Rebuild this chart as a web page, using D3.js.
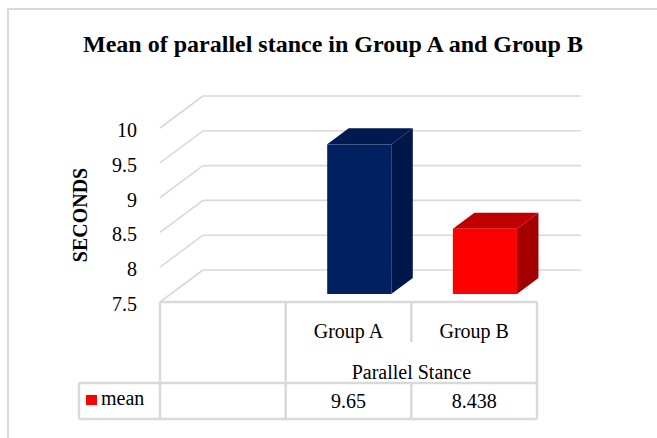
<!DOCTYPE html>
<html>
<head>
<meta charset="utf-8">
<script src="https://cdn.jsdelivr.net/npm/d3@7"></script>
<style>
  html, body { margin: 0; padding: 0; background: #fff; }
  svg { display: block; }
  text { font-family: "Liberation Serif", "Times New Roman", serif; fill: #000; }
</style>
</head>
<body>
<script>
// Chart data
const titleText = "Mean of parallel stance in Group A and Group B";
const axisTitle = "SECONDS";
const groupLabel = "Parallel Stance";
const seriesName = "mean";
const categories = ["Group A", "Group B"];
const meanValues = [9.65, 8.438];
const barColors = ["#002060", "#ff0000"];
const topColors = ["#001a50", "#c00000"];
const sideColors = ["#00174a", "#a50000"];
const yTicks = [7.5, 8, 8.5, 9, 9.5, 10];

const W = 657, H = 438;
const svg = d3.select("body").append("svg").attr("width", W).attr("height", H);

// outer chart-area border
svg.append("rect").attr("x", 8).attr("y", 9).attr("width", 720).attr("height", 520)
  .attr("fill", "#fff").attr("stroke", "#d9d9d9").attr("stroke-width", 2);

// title
svg.append("text").attr("x", 333).attr("y", 52).attr("text-anchor", "middle")
  .attr("font-size", 24).attr("font-weight", "bold").text(titleText);

// scales (front plane)
const y = d3.scaleLinear().domain([7.5, 10]).range([302, 128]);
const x = d3.scaleBand().domain(["", ...categories]).range([160, 537]);
const depthX = 43, depthY = -32;        // full floor depth
const backRight = 581;

const grid = svg.append("g").attr("stroke", "#d9d9d9").attr("stroke-width", 1.6).attr("fill", "none");
yTicks.forEach(v => {
  grid.append("line").attr("x1", x.range()[0]).attr("y1", y(v))
    .attr("x2", x.range()[0] + depthX).attr("y2", y(v) + depthY);
  grid.append("line").attr("x1", x.range()[0] + depthX).attr("y1", y(v) + depthY)
    .attr("x2", backRight).attr("y2", y(v) + depthY);
});

// tick labels
svg.append("g").selectAll("text").data(yTicks).join("text")
  .attr("x", 137).attr("y", d => y(d) + 2).attr("dy", "0.35em")
  .attr("text-anchor", "end").attr("font-size", 20).text(d => d);

// axis title
svg.append("text").attr("transform", "translate(87,215) rotate(-90)")
  .attr("text-anchor", "middle").attr("font-size", 20).attr("font-weight", "bold").text(axisTitle);

// 3D bars
const t1 = 0.25, t2 = 0.75;
const barW = x.bandwidth() * 0.51;
const bdx = (t2 - t1) * depthX, bdy = (t2 - t1) * depthY;
const bars = svg.append("g");
categories.forEach((c, i) => {
  const v = meanValues[i];
  const xl = x(c) + (x.bandwidth() - barW) / 2 + t1 * depthX;
  const xr = xl + barW;
  const yt = y(v) + t1 * depthY;
  const yb = y(7.5) + t1 * depthY;
  bars.append("polygon").attr("fill", topColors[i])
    .attr("points", [[xl, yt], [xr, yt], [xr + bdx, yt + bdy], [xl + bdx, yt + bdy]].join(" "));
  bars.append("polygon").attr("fill", sideColors[i])
    .attr("points", [[xr, yt], [xr + bdx, yt + bdy], [xr + bdx, yb + bdy], [xr, yb]].join(" "));
  bars.append("rect").attr("fill", barColors[i])
    .attr("x", xl).attr("y", yt).attr("width", barW).attr("height", yb - yt);
});

// data table
const tableTop = 302, rowSep = 383, tableBottom = 419, legendLeft = 79;
const xs = x.domain().map(d => x(d));
const xEnd = x.range()[1];
const tbl = svg.append("g").attr("stroke", "#d9d9d9").attr("stroke-width", 2.5).attr("fill", "none");
tbl.append("line").attr("x1", xs[0]).attr("x2", xEnd).attr("y1", tableTop).attr("y2", tableTop);
tbl.append("line").attr("x1", legendLeft).attr("x2", xEnd).attr("y1", rowSep).attr("y2", rowSep);
tbl.append("line").attr("x1", legendLeft).attr("x2", xEnd).attr("y1", tableBottom).attr("y2", tableBottom);
tbl.append("line").attr("x1", legendLeft).attr("x2", legendLeft).attr("y1", rowSep).attr("y2", tableBottom);
tbl.append("line").attr("x1", xs[0]).attr("x2", xs[0]).attr("y1", tableTop).attr("y2", tableBottom);
tbl.append("line").attr("x1", xs[1]).attr("x2", xs[1]).attr("y1", tableTop).attr("y2", tableBottom);
tbl.append("line").attr("x1", xs[2]).attr("x2", xs[2]).attr("y1", tableTop).attr("y2", 342);
tbl.append("line").attr("x1", xs[2]).attr("x2", xs[2]).attr("y1", rowSep).attr("y2", tableBottom);
tbl.append("line").attr("x1", xEnd).attr("x2", xEnd).attr("y1", tableTop).attr("y2", tableBottom);

// category labels
svg.append("g").selectAll("text").data(categories).join("text")
  .attr("x", d => x(d) + x.bandwidth() / 2).attr("y", 338)
  .attr("text-anchor", "middle").attr("font-size", 20).text(d => d);
svg.append("text").attr("x", (x(categories[0]) + xEnd) / 2).attr("y", 379)
  .attr("text-anchor", "middle").attr("font-size", 20).text(groupLabel);

// value row
svg.append("g").selectAll("text").data(meanValues).join("text")
  .attr("x", (d, i) => x(categories[i]) + x.bandwidth() / 2).attr("y", 408)
  .attr("text-anchor", "middle").attr("font-size", 20).text(d => String(d));

// legend key
svg.append("rect").attr("x", 86).attr("y", 395).attr("width", 11).attr("height", 10).attr("fill", barColors[1]);
svg.append("text").attr("x", 101).attr("y", 405).attr("font-size", 20).text(seriesName);
</script>
</body>
</html>
